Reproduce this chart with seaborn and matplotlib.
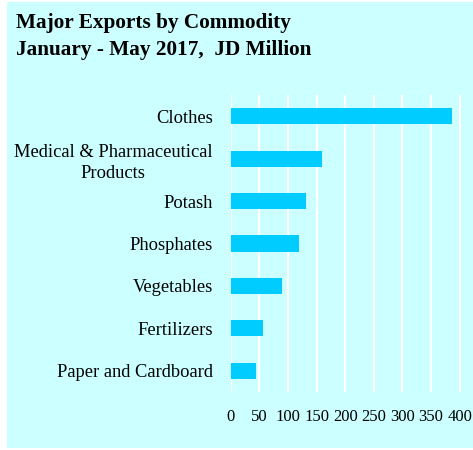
import matplotlib
matplotlib.use('Agg')
import matplotlib.pyplot as plt
import seaborn as sns
import pandas as pd
from matplotlib.patches import Rectangle

commodities = ['Clothes', 'Medical & Pharmaceutical\nProducts', 'Potash', 'Phosphates',
               'Vegetables', 'Fertilizers', 'Paper and Cardboard']
values = [387, 159, 131, 119, 89, 56, 45]
xticks = [0, 50, 100, 150, 200, 250, 300, 350, 400]

df = pd.DataFrame({'Commodity': commodities, 'Value': values})

bg = '#CCFFFF'
bar_color = '#00CCFF'

sns.set_style('white', {'axes.facecolor': bg, 'text.color': 'black',
                        'xtick.color': 'black', 'ytick.color': 'black'})
plt.rcParams['font.family'] = ['Liberation Serif', 'DejaVu Serif']

W, H = 473, 450
fig = plt.figure(figsize=(W / 100, H / 100), dpi=100)
fig.patch.set_facecolor('white')
fig.patches.append(Rectangle((7 / W, 2 / H), 1 - 7 / W, 1 - 4 / H,
                             transform=fig.transFigure, facecolor=bg,
                             edgecolor='none', zorder=-5))

ax = fig.add_axes([230.7 / W, (H - 392) / H, (461 - 230.7) / W, 297 / H])
ax.set_zorder(2)
sns.barplot(data=df, x='Value', y='Commodity', orient='h', color=bar_color,
            width=0.38, ax=ax, zorder=3, saturation=1, edgecolor='none')

ax.set_xlim(0, 402.5)
ax.set_ylim(6.5, -0.5)
ax.set_xticks(xticks)
ax.grid(axis='x', color='white', linewidth=1.6, zorder=1)
ax.set_axisbelow(True)
for s in ax.spines.values():
    s.set_visible(False)
ax.tick_params(axis='both', length=0, labelcolor='black')
ax.tick_params(axis='x', pad=12, labelsize=12)
ax.tick_params(axis='y', pad=13, labelsize=13.3)
for lbl in ax.get_yticklabels():
    lbl.set_multialignment('center')
    lbl.set_linespacing(1.35)
ax.set_xlabel('')
ax.set_ylabel('')

fig.text(16 / W, 1 - 28 / H, 'Major Exports by Commodity', fontsize=15.3,
         fontweight='bold', color='black', ha='left', va='baseline')
fig.text(16 / W, 1 - 55 / H, 'January - May 2017,  JD Million', fontsize=15.3,
         fontweight='bold', color='black', ha='left', va='baseline')

fig.savefig('out.png', dpi=100)
